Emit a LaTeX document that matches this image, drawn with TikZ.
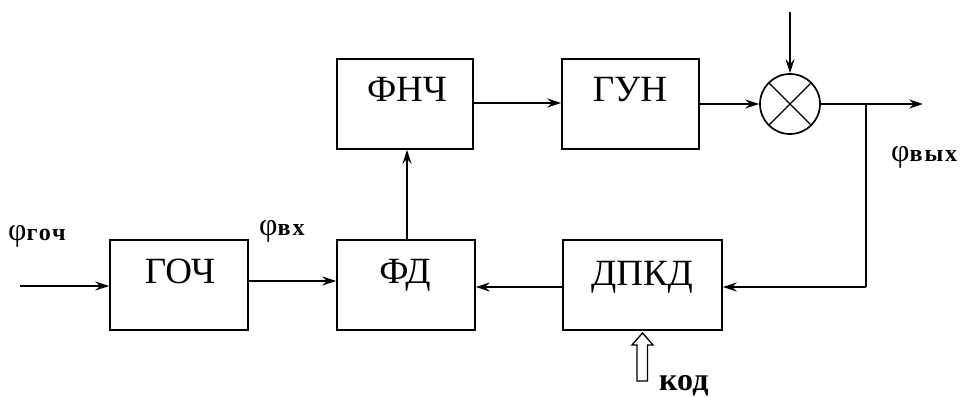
\documentclass[tikz,border=0pt]{standalone}
\usepackage{fontspec}
\setmainfont{Liberation Serif}
\usetikzlibrary{arrows.meta}
\tikzset{
  blk/.style={draw, line width=1.7pt, minimum width=#1, minimum height=90pt, inner sep=0pt},
  blk/.default=138pt,
  btxt/.style={font=\fontsize{37}{40}\selectfont, inner sep=0pt, anchor=base},
  lbl/.style={inner sep=0pt, anchor=base west},
  arr/.style={line width=1.7pt, -{Stealth[length=14pt,width=9pt,inset=5pt]}},
  ln/.style={line width=1.7pt},
}
\newcommand{\phisub}[1]{{\fontsize{32}{34}\selectfont φ}{\fontsize{24}{26}\selectfont\bfseries\addfontfeature{LetterSpace=8}#1}}
\begin{document}
\begin{tikzpicture}[x=1pt,y=-1pt]
\useasboundingbox (0,0) rectangle (963,398);
% blocks
\node[blk] (goch) at (179,285) {};
\node[blk] (fd) at (406,285) {};
\node[blk=136pt] (fnch) at (405,104) {};
\node[blk=137pt] (gun) at (630.5,104) {};
\node[blk=159pt] (dpkd) at (642.5,285) {};
\node[draw, circle, line width=1.7pt, minimum size=60pt, inner sep=0pt] (mix) at (790,104) {};
\draw[line width=1.2pt] (mix.north west) -- (mix.south east) (mix.north east) -- (mix.south west);
% block texts
\node[btxt] (tgoch) at (180,283) {ГОЧ};
\node[btxt] (tfd) at (405,283) {ФД};
\node[btxt] (tfnch) at (407,102) {ФНЧ};
\node[btxt] (tgun) at (630,102) {ГУН};
\node[btxt] (tdpkd) at (642,285) {ДПКД};
% labels
\node[lbl] (lgoch) at (8,240) {\phisub{гоч}};
\node[lbl] (lvx) at (259,235) {\phisub{вх}};
\node[lbl] (lvyx) at (891,162) {\phisub{вых}};
\node[lbl, font=\fontsize{32}{34}\selectfont\bfseries] (lkod) at (659,390) {код};
% coordinates
\coordinate (in) at (20,286);
\coordinate (top) at (790,12);
\coordinate (out) at (923,104);
\coordinate (br) at (866,104);
\coordinate (brd) at (866,287);
% connectors
\draw[arr] (in) -- (in -| goch.west);
\draw[arr] ([yshift=4pt]goch.east) -- ([yshift=4pt]fd.west);
\draw[arr] (fd.north -| 407,0) -- (fnch.south -| 407,0);
\draw[arr] ([yshift=1pt]fnch.east) -- ([yshift=1pt]gun.west);
\draw[arr] (gun.east) -- (mix.west);
\draw[arr] (top) -- (mix.north);
\draw[arr] (mix.east) -- (out);
\draw[ln] (br) -- (brd);
\draw[arr] (brd) -- (brd -| dpkd.east);
\draw[arr] ([yshift=-2pt]dpkd.west) -- ([yshift=-2pt]fd.east);
% hollow arrow for kod
\draw[line width=1.3pt, fill=white] (642.5,333) -- (653,345) -- (647.5,345) -- (647.5,381) -- (637,381) -- (637,345) -- (632,345) -- cycle;
\end{tikzpicture}
\end{document}
